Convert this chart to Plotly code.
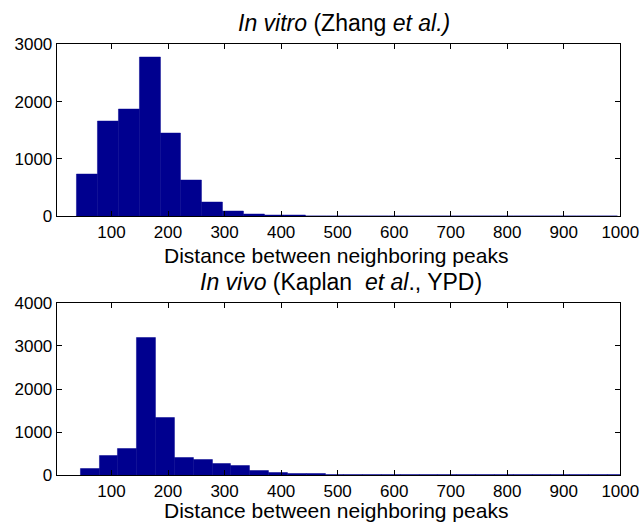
import plotly.graph_objects as go

# ---- data ----
top_bin_centers = [57.5, 94.3, 131.1, 167.9, 204.7, 241.5, 278.3, 315.1, 351.9, 388.7,
                   425.5, 462.3, 499.1, 535.9, 572.7, 609.5, 646.3, 683.1, 719.9, 756.7,
                   793.5, 830.3, 867.1, 903.9, 940.7, 977.5]
top_counts = [740, 1665, 1860, 2780, 1445, 623, 252, 80, 36, 22,
              12, 8, 6, 5, 4, 3, 3, 2, 2, 2,
              2, 1, 1, 1, 1, 1]
top_bin_width = 36.8

bot_bin_centers = [61.75, 95.05, 128.35, 161.65, 194.95, 228.25, 261.55, 294.85, 328.15, 361.45,
                   394.75, 428.05, 461.35, 494.65, 527.95, 561.25, 594.55, 627.85, 661.15, 694.45,
                   727.75, 761.05, 794.35, 827.65, 860.95, 894.25, 927.55, 960.85, 994.15]
bot_counts = [155, 457, 619, 3185, 1340, 411, 366, 271, 209, 113,
              63, 46, 39, 9, 6, 5, 4, 3, 3, 2,
              2, 2, 2, 1, 1, 1, 1, 1, 1]
bot_bin_width = 33.3

x_ticks = [100, 200, 300, 400, 500, 600, 700, 800, 900, 1000]
top_y_ticks = [0, 1000, 2000, 3000]
bot_y_ticks = [0, 1000, 2000, 3000, 4000]

title_top = "<i>In vitro</i> (Zhang <i>et al.)</i>"
title_bot = "<i>In vivo</i> (Kaplan  <i>et al</i>., YPD)"
x_label = "Distance between neighboring peaks"

# ---- style ----
W, H = 640, 527
FONT = "Liberation Sans, Arial, Helvetica, sans-serif"
BAR = "rgb(0,0,143)"

def px_x(p):
    return p / W

def px_y(p):
    return 1 - p / H

fig = go.Figure()
fig.add_trace(go.Bar(x=top_bin_centers, y=top_counts, width=top_bin_width,
                     marker=dict(color=BAR, line=dict(color=BAR, width=0.5)),
                     xaxis="x", yaxis="y", showlegend=False, hoverinfo="x+y"))
fig.add_trace(go.Bar(x=bot_bin_centers, y=bot_counts, width=bot_bin_width,
                     marker=dict(color=BAR, line=dict(color=BAR, width=0.5)),
                     xaxis="x2", yaxis="y2", showlegend=False, hoverinfo="x+y"))

xdom = [px_x(56.7), px_x(620.3)]
axis_common = dict(showline=True, linecolor="black", linewidth=1, mirror="allticks",
                   ticks="inside", ticklen=5, tickcolor="black", tickwidth=1,
                   showgrid=False, zeroline=False, automargin=False,
                   tickfont=dict(family=FONT, size=17, color="black"))

fig.update_layout(
    template="none",
    width=W, height=H,
    margin=dict(l=0, r=0, t=0, b=0, pad=0, autoexpand=False),
    paper_bgcolor="white", plot_bgcolor="white",
    bargap=0,
    font=dict(family=FONT, color="black"),
    xaxis=dict(domain=xdom, range=[3, 1000], tickvals=x_ticks, anchor="y", **axis_common),
    yaxis=dict(domain=[px_y(216.3), px_y(44.3)], range=[0, 3000], tickvals=top_y_ticks,
               anchor="x", **axis_common),
    xaxis2=dict(domain=xdom, range=[3, 1000], tickvals=x_ticks, anchor="y2", **axis_common),
    yaxis2=dict(domain=[px_y(475.3), px_y(302.8)], range=[0, 4000], tickvals=bot_y_ticks,
                anchor="x2", **axis_common),
)

ann = [
    (title_top, 344, 23, 23),
    (x_label, 336, 255, 21),
    (title_bot, 341, 281.5, 23),
    (x_label, 336, 510, 21),
]
for text, xp, yp, size in ann:
    fig.add_annotation(text=text, x=px_x(xp), y=px_y(yp), xref="paper", yref="paper",
                       xanchor="center", yanchor="middle", showarrow=False,
                       font=dict(family=FONT, size=size, color="black"))

fig.write_html("out.html")
